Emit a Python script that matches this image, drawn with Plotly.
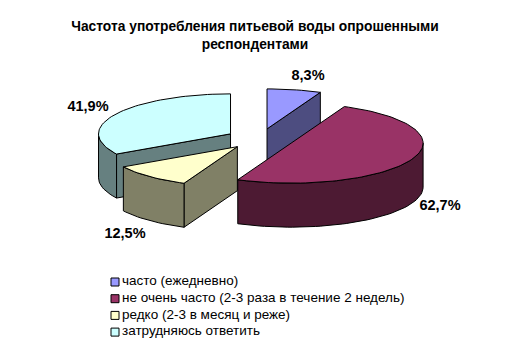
import math
import plotly.graph_objects as go

# ---- data ----
categories = [
    "часто (ежедневно)",
    "не очень часто (2-3 раза в течение 2 недель)",
    "редко (2-3 в месяц и реже)",
    "затрудняюсь ответить",
]
values = [8.3, 62.7, 12.5, 41.9]
title_text = "Частота употребления питьевой воды опрошенными<br>респондентами"

# ---- styles and layout constants ----
top_colors = ["#9999FF", "#993366", "#FFFFCC", "#CCFFFF"]
side_colors = ["#4D4D80", "#4D1A33", "#808066", "#668080"]
label_xy = [(308, 76), (440, 206), (125, 234), (88, 107)]
legend_x, legend_text_x, legend_y0, legend_dy = 115, 122, 282, 16.7
CX, CY, RX, RY, DEPTH, EXPLODE = 260, 139, 132, 40, 44, 0.2575
FONT = "Liberation Sans"


def pt(c, deg, dz=0, r=1.0):
    t = math.radians(deg)
    return c[0] + r * RX * math.sin(t), c[1] - r * RY * math.cos(t) + dz


def arc(c, a0, a1, dz=0):
    n = max(2, int(abs(a1 - a0) / 2) + 1)
    return [pt(c, a0 + (a1 - a0) * i / (n - 1), dz) for i in range(n)]


fig = go.Figure()


def poly(points, color):
    xs = [p[0] for p in points] + [points[0][0]]
    ys = [p[1] for p in points] + [points[0][1]]
    fig.add_trace(go.Scatter(x=xs, y=ys, mode="lines", fill="toself", fillcolor=color,
                             line=dict(color="black", width=1), hoverinfo="skip",
                             showlegend=False))


total = sum(values)
spans = []
acc = 0.0
for v in values:
    spans.append((acc, acc + v / total * 360))
    acc += v / total * 360

centers = []
for a0, a1 in spans:
    centers.append(pt((CX, CY), (a0 + a1) / 2, r=EXPLODE))


def wall(i, angle):
    c = centers[i]
    e = pt(c, angle)
    poly([c, e, (e[0], e[1] + DEPTH), (c[0], c[1] + DEPTH)], side_colors[i])


def draw_slice(i):
    a0, a1 = spans[i]
    c = centers[i]
    # radial walls facing the viewer
    if a1 < 180:
        wall(i, a1)
    if a0 > 180:
        wall(i, a0)
    # curved wall (front half of the rim only)
    lo, hi = max(a0, 90), min(a1, 270)
    if lo < hi:
        poly(arc(c, lo, hi) + arc(c, hi, lo, DEPTH), side_colors[i])
    # top face
    poly([c] + arc(c, a0, a1), top_colors[i])


for i in [0, 3, 2, 1]:
    draw_slice(i)

# value labels
fig.add_trace(go.Scatter(
    x=[p[0] for p in label_xy], y=[p[1] for p in label_xy], mode="text",
    text=[f"{v:.1f}%".replace(".", ",") for v in values],
    textposition="middle center",
    textfont=dict(family=FONT, size=14.5, color="black"),
    texttemplate="<b>%{text}</b>", hoverinfo="skip", showlegend=False))

# legend column
legend_rows = [legend_y0 + legend_dy * i for i in range(len(categories))]
fig.add_trace(go.Scatter(
    x=[legend_x] * len(categories), y=legend_rows, mode="markers",
    marker=dict(symbol="square", size=8, color=top_colors,
                line=dict(color="black", width=1)),
    hoverinfo="skip", showlegend=False))
fig.add_trace(go.Scatter(
    x=[legend_text_x] * len(categories), y=legend_rows,
    mode="text", text=categories, textposition="middle right",
    textfont=dict(family=FONT, size=13.5, color="black"),
    hoverinfo="skip", showlegend=False))

fig.update_layout(
    width=511, height=351, margin=dict(l=0, r=0, t=0, b=0),
    paper_bgcolor="white", plot_bgcolor="white", showlegend=False,
    title=dict(text=f"<b>{title_text}</b>", x=255 / 511, xanchor="center",
               y=1 - 31 / 351, yanchor="top",
               font=dict(family=FONT, size=13.8, color="black")),
    xaxis=dict(range=[0, 511], visible=False, fixedrange=True),
    yaxis=dict(range=[351, 0], visible=False, fixedrange=True),
)
fig.write_html("out.html", config={"displayModeBar": False},
               post_script="document.body.style.margin='0';")
